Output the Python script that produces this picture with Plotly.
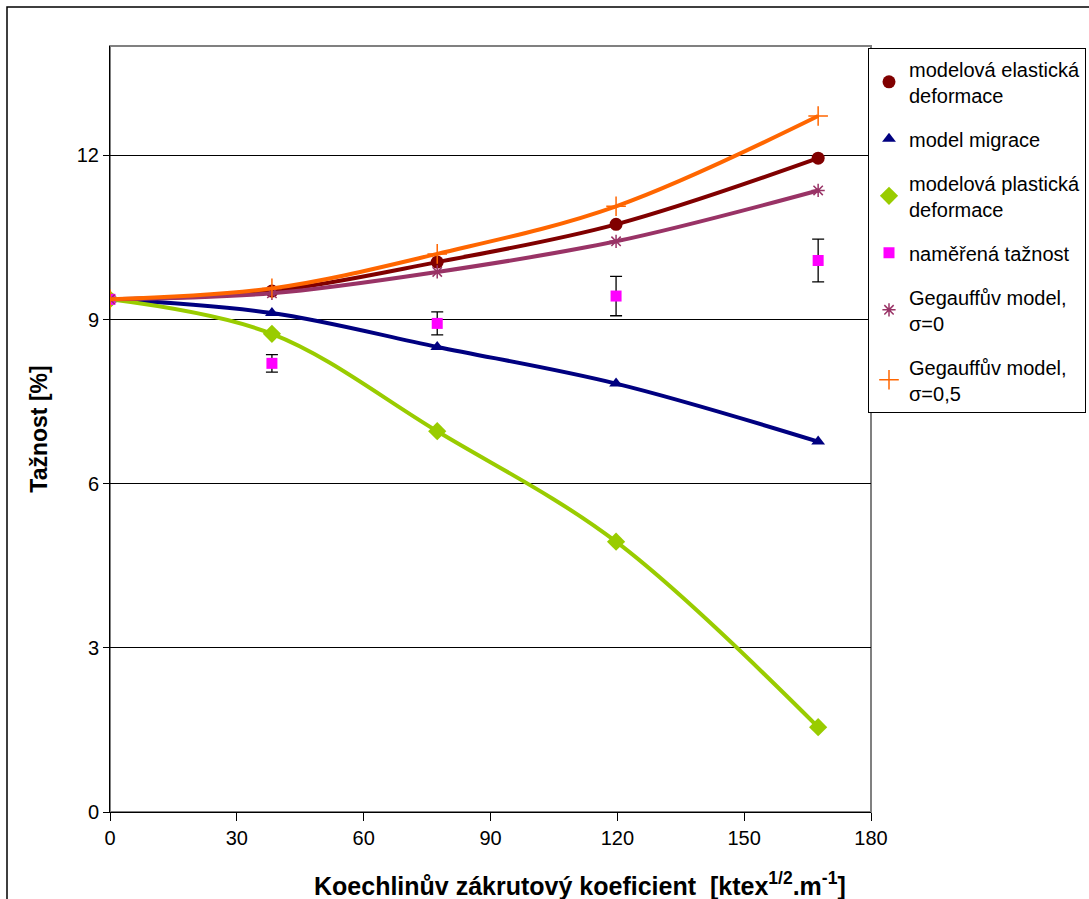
import plotly.graph_objects as go

x_model = [0, 38.3, 77.4, 119.7, 167.5]
elasticka = [9.37, 9.52, 10.05, 10.74, 11.95]
migrace = [9.37, 9.12, 8.50, 7.83, 6.77]
plasticka = [9.37, 8.74, 6.96, 4.94, 1.55]
x_mereni = [0, 38.3, 77.4, 119.7, 167.5]
namerena = [9.37, 8.20, 8.93, 9.43, 10.08]
chyba = [0, 0.16, 0.21, 0.36, 0.39]
gegauff0 = [9.37, 9.48, 9.87, 10.43, 11.36]
gegauff05 = [9.37, 9.57, 10.20, 11.07, 12.72]

names = ["modelová elastická<br>deformace", "model migrace",
         "modelová plastická<br>deformace", "naměřená tažnost",
         "Gegauffův model,<br>σ=0", "Gegauffův model,<br>σ=0,5"]

styles = [
    ("#800000", "circle", 13, None),
    ("#000080", "triangle-up", 12, None),
    ("#99CC00", "diamond", 14, None),
    ("#FF00FF", "square", 11, None),
    ("#993366", "asterisk-open", 11, dict(color="#993366", width=1.5)),
    ("#FF6600", "cross-thin-open", 14, dict(color="#FF6600", width=1.5)),
]
series = [elasticka, migrace, plasticka, None, gegauff0, gegauff05]

fig = go.Figure()

for i, ys in enumerate(series):
    color, symbol, size, mline = styles[i]
    mk = dict(symbol=symbol, size=size, color=color)
    if mline:
        mk["line"] = mline
    if ys is None:
        fig.add_trace(go.Scatter(x=x_mereni, y=namerena, mode="markers",
                                 marker=mk, showlegend=False,
                                 error_y=dict(type="data", array=chyba, visible=True,
                                              color="black", thickness=1.3, width=6)))
    else:
        fig.add_trace(go.Scatter(x=x_model, y=ys, mode="lines+markers",
                                 line=dict(color=color, width=4, shape="spline", smoothing=1),
                                 marker=mk, showlegend=False))

# legend entries (marker only, as in the reference)
for i, name in enumerate(names):
    color, symbol, size, mline = styles[i]
    mk = dict(symbol=symbol, size=size, color=color)
    if mline:
        mk["line"] = mline
    fig.add_trace(go.Scatter(x=[None], y=[None], mode="markers", name=name,
                             marker=mk, legendgroup=str(i)))

font = "Arial"

fig.update_layout(
    width=1089, height=899,
    margin=dict(l=110, r=218, t=46, b=87, autoexpand=False),
    paper_bgcolor="white", plot_bgcolor="white",
    font=dict(family=font, size=20, color="black"),
    showlegend=True,
    legend=dict(x=(868 - 110) / 761, y=0.997, xanchor="left", yanchor="top",
                bordercolor="black", borderwidth=1, bgcolor="white",
                font=dict(size=20, family=font), tracegroupgap=15,
                itemwidth=30),
    xaxis=dict(range=[0, 180], tickvals=[0, 30, 60, 90, 120, 150, 180],
               showgrid=False, zeroline=False, showline=True, linecolor="black",
               linewidth=1, ticks="outside", ticklen=8, tickcolor="black",
               tickfont=dict(size=20)),
    yaxis=dict(range=[0, 14], tickvals=[0, 3, 6, 9, 12],
               showgrid=True, gridcolor="black", gridwidth=1, zeroline=False,
               showline=True, linecolor="black", linewidth=1,
               ticks="outside", ticklen=6, tickcolor="black",
               tickfont=dict(size=20),
               title=dict(text="<b>Tažnost [%]</b>", font=dict(size=23), standoff=22)),
    annotations=[
        dict(text="<b>Koechlinův zákrutový koeficient  [ktex<sup>1/2</sup>.m<sup>-1</sup>]</b>",
             xref="paper", yref="paper", x=(580 - 110) / 761, y=-(884 - 812) / 766,
             xanchor="center", yanchor="middle", showarrow=False,
             font=dict(size=25, family=font)),
    ],
    shapes=[
        dict(type="rect", xref="x domain", yref="y domain", x0=0, x1=1, y0=0, y1=1,
             line=dict(color="#808080", width=2), layer="below"),
        dict(type="rect", xref="paper", yref="paper",
             x0=-103/761, x1=1.5, y0=-0.2, y1=1 + 39/766,
             line=dict(color="black", width=1.5), layer="below"),
    ],
)

fig.write_html("out.html")
